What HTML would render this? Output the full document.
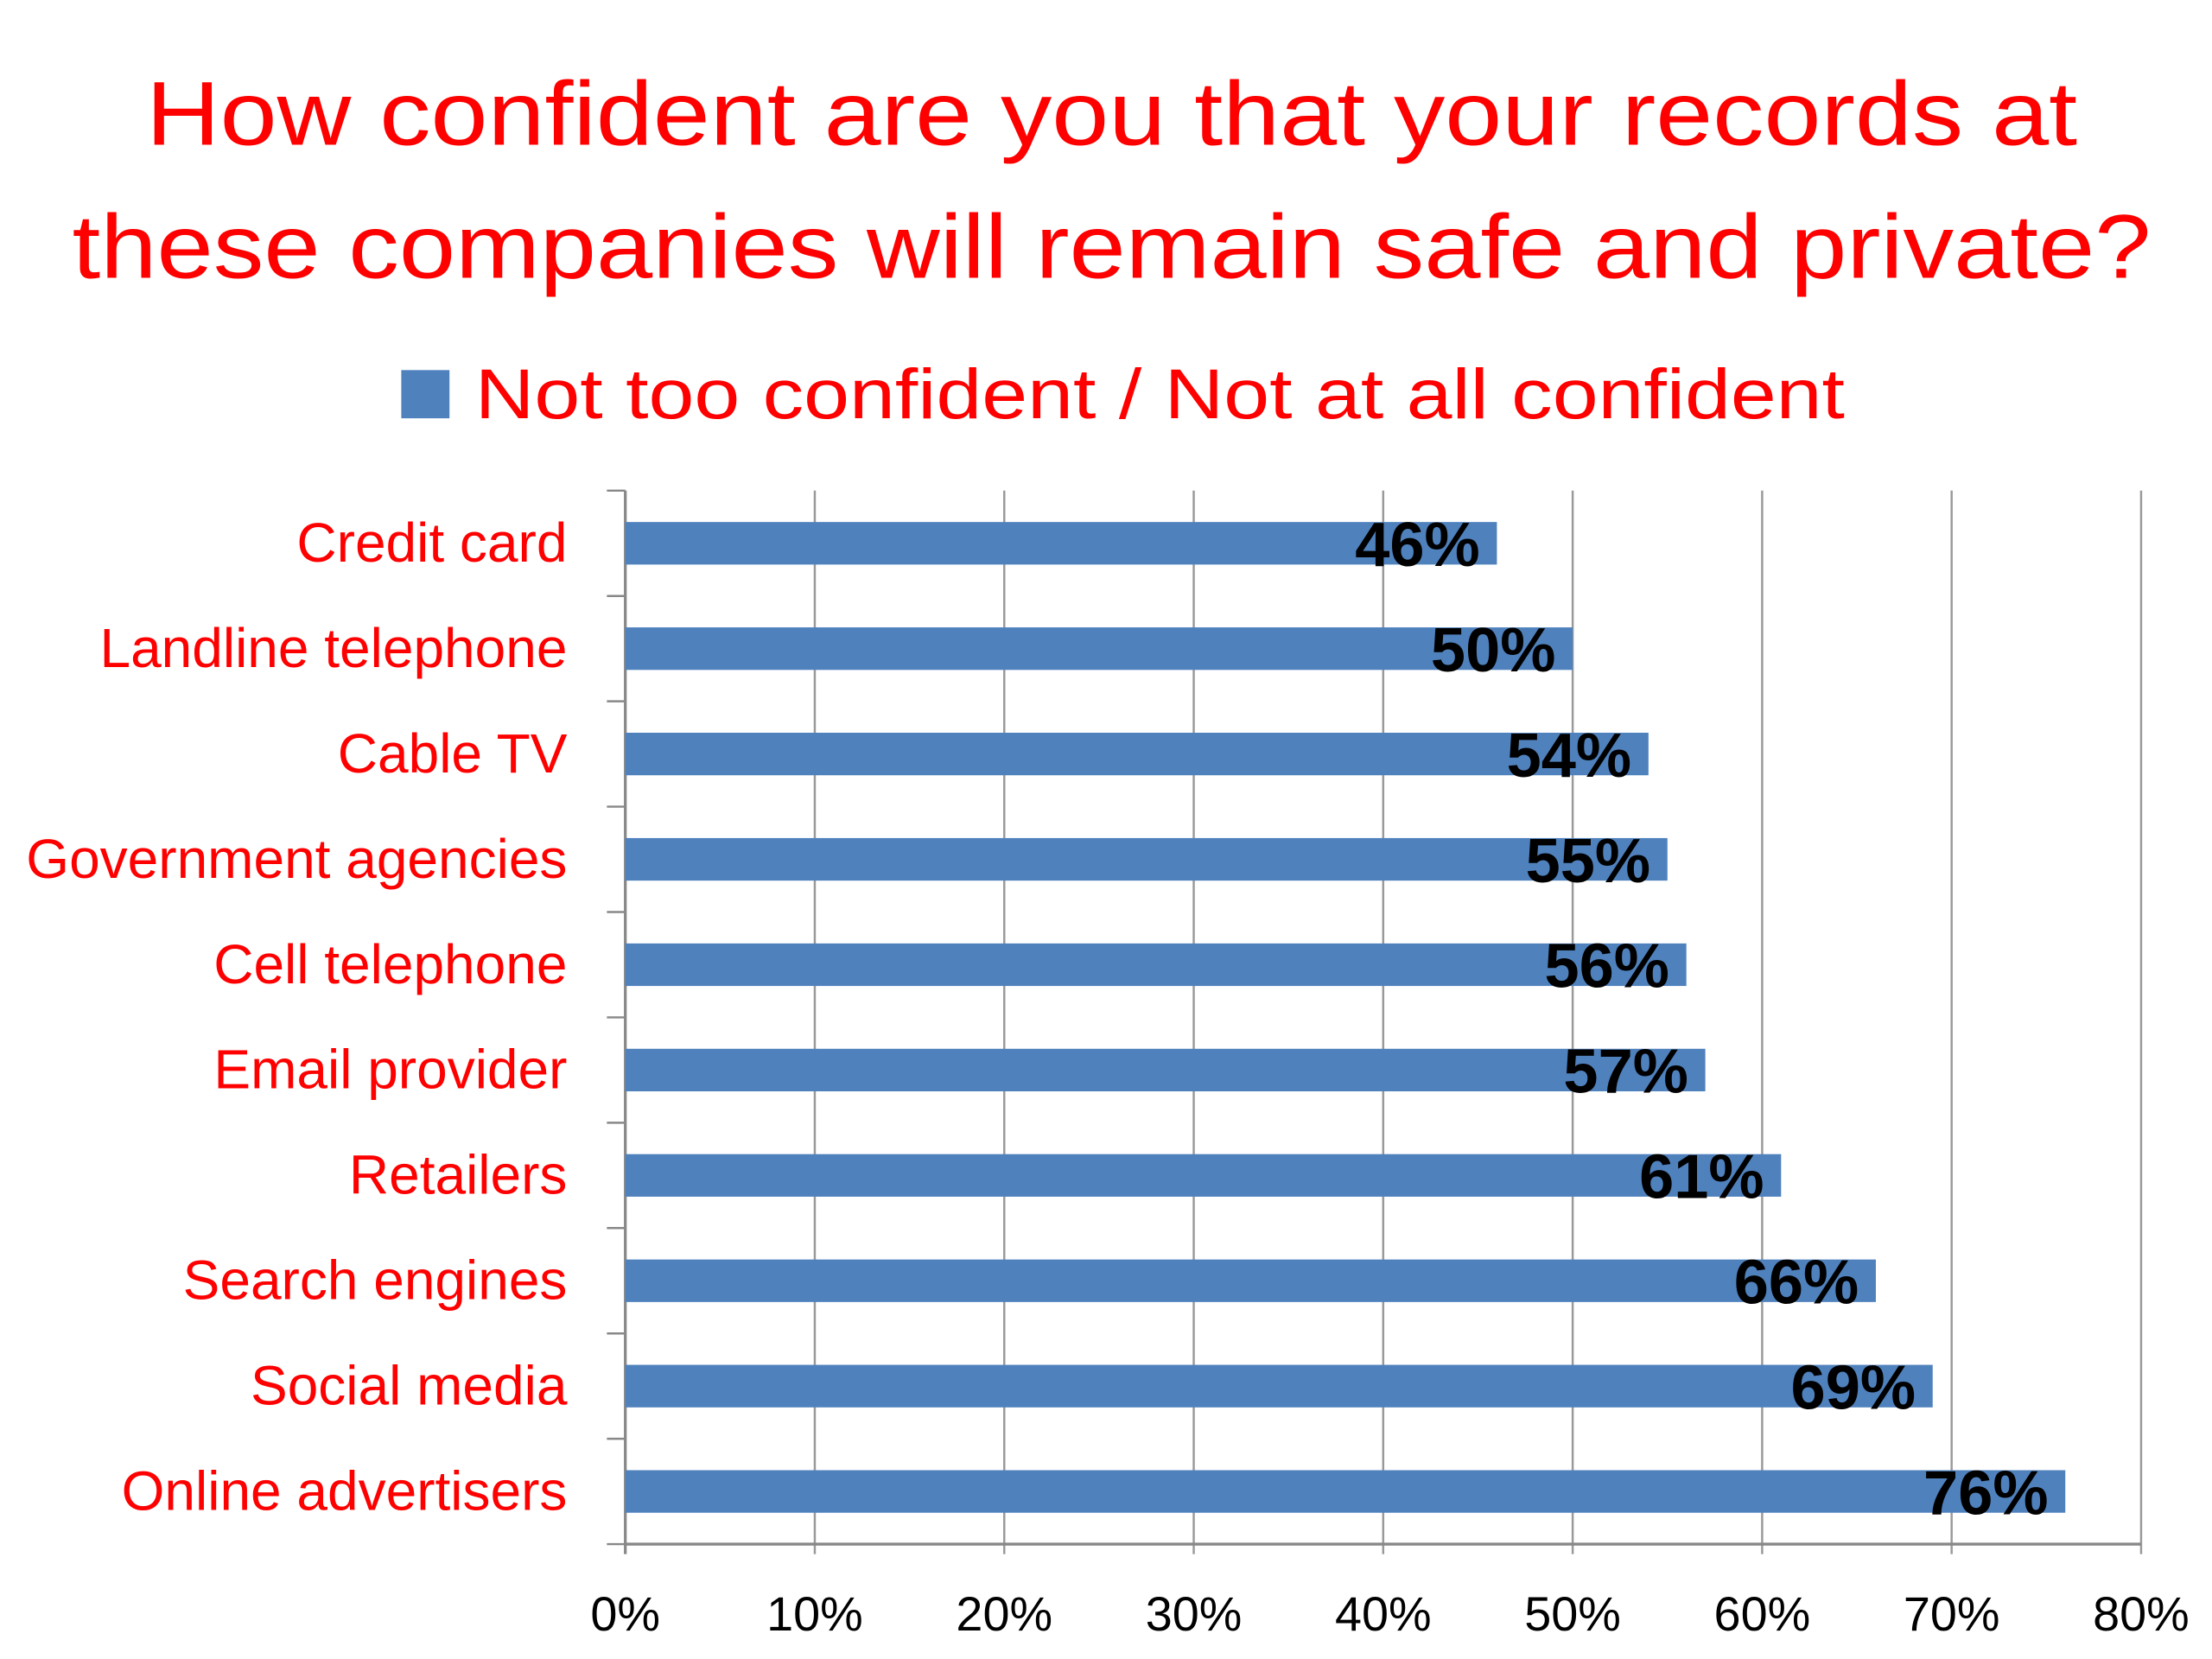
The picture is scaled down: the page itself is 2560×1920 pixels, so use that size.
<!DOCTYPE html>
<html><head><meta charset="utf-8"><style>
html,body{margin:0;padding:0;background:#fff}
svg{display:block}
text{font-family:"Liberation Sans",sans-serif}
</style></head><body>
<svg id="chart" width="2560" height="1920" viewBox="0 0 1560 1170" xmlns="http://www.w3.org/2000/svg">
<text x="784" y="102" text-anchor="middle" font-size="64" fill="#ff0000" textLength="1362" lengthAdjust="spacingAndGlyphs">How confident are you that your records at</text>
<text x="784" y="196" text-anchor="middle" font-size="64" fill="#ff0000" textLength="1466" lengthAdjust="spacingAndGlyphs">these companies will remain safe and private?</text>
<g>
<rect x="283" y="261" width="34" height="34" fill="#4f81bd"/>
<text x="335" y="295" font-size="50" fill="#ff0000" textLength="966" lengthAdjust="spacingAndGlyphs">Not too confident / Not at all confident</text>
</g>
<g id="grid"></g><g id="bars"></g><g id="labels"></g>
</svg>
<script>
const categories=["Credit card","Landline telephone","Cable TV","Government agencies","Cell telephone","Email provider","Retailers","Search engines","Social media","Online advertisers"];
const values=[46,50,54,55,56,57,61,66,69,76];
const tickValues=[0,10,20,30,40,50,60,70,80];
const NS="http://www.w3.org/2000/svg";
const x0=441,x1=1510,yTop=346,yBot=1089,xMax=80;
const xs=v=>x0+(v/xMax)*(x1-x0);
const band=(yBot-yTop)/categories.length;
const ys=i=>yTop+band*(i+0.5);
function mk(t,a,p){const e=document.createElementNS(NS,t);for(const k in a)e.setAttribute(k,a[k]);p.appendChild(e);return e;}
const grid=document.getElementById('grid'),bars=document.getElementById('bars'),labels=document.getElementById('labels');
tickValues.forEach(v=>{
 const l=mk('line',{x1:xs(v),x2:xs(v),y1:yTop,y2:yBot+7,stroke:v===0?'#888':'#999','stroke-width':v===0?2:1.5},grid);
 
 
 const t=mk('text',{x:xs(v),y:1150,'text-anchor':'middle','font-size':34,fill:'#000'},grid);
 t.textContent=v+'%';
 
 
});
const ax=mk('line',{x1:x0,x2:x1,y1:yBot,y2:yBot,stroke:'#888','stroke-width':2},grid);


for(let i=0;i<=categories.length;i++){
 const y=yTop+band*i;
 const tk=mk('line',{x1:428,x2:x0,y1:y,y2:y,stroke:'#888','stroke-width':1.5},grid);
 
 
}
categories.forEach((c,i)=>{
 const yc=ys(i);
 const r=mk('rect',{x:x0,y:yc-15,width:xs(values[i])-x0,height:30,fill:'#4f81bd'},bars);
 
 
 const cl=mk('text',{x:400,y:yc+13,'text-anchor':'end','font-size':39,fill:'#ff0000'},labels);
 cl.textContent=c;
 
 
 const vl=mk('text',{x:xs(values[i])-12,y:yc+16,'text-anchor':'end','font-size':44,'font-weight':'bold',fill:'#000'},labels);
 vl.textContent=values[i]+'%';
 
 
});
</script>
</body></html>
